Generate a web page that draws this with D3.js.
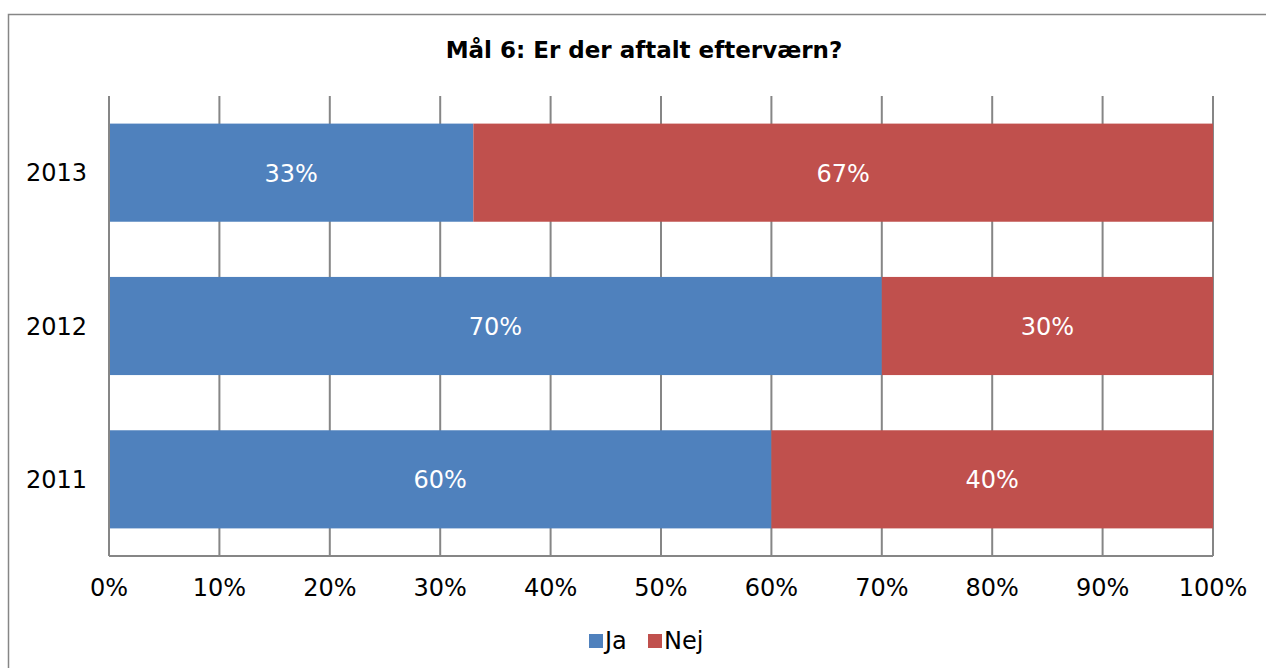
<!DOCTYPE html>
<html lang="da">
<head>
    <meta charset="UTF-8">
    <title>Mål 6</title>
    <style>
        body { margin: 0; background: #fff; }
        svg text { font-family: Verdana, "DejaVu Sans", sans-serif; }
    </style>
</head>
<body>
    <svg id="svg" width="1266" height="668"></svg>

    <script src="https://d3js.org/d3.v7.min.js"></script>
    <script>
        const years = ["2013", "2012", "2011"]
        const ja = [33, 70, 60]
        const nej = [67, 30, 40]
        const ticks = [0, 10, 20, 30, 40, 50, 60, 70, 80, 90, 100]
        const seriesNames = ["Ja", "Nej"]
        const colors = ["#4F81BD", "#C0504D"]

        const plotLeft = 109, plotRight = 1213, plotTop = 96, plotBottom = 556

        const svg = d3.select("#svg")

        // outer frame (runs off the right/bottom edges)
        svg.append("rect")
            .attr("x", 8.5).attr("y", 14.5)
            .attr("width", 1300).attr("height", 700)
            .attr("fill", "none")
            .attr("stroke", "#868686")
            .attr("stroke-width", 1.5)

        svg.append("text")
            .attr("x", 644).attr("y", 58)
            .attr("text-anchor", "middle")
            .attr("font-weight", "bold")
            .attr("font-size", "23px")
            .text("Mål 6: Er der aftalt efterværn?")

        const x = d3.scaleLinear().domain([0, 100]).range([plotLeft, plotRight])
        const y = d3.scaleBand().domain(years).range([plotTop, plotBottom]).paddingInner(0.36).paddingOuter(0.18)

        // gridlines
        svg.append("g")
            .selectAll("line")
            .data(ticks)
            .enter()
            .append("line")
            .attr("x1", d => x(d)).attr("x2", d => x(d))
            .attr("y1", plotTop).attr("y2", plotBottom)
            .attr("stroke", "#868686")
            .attr("stroke-width", 2)

        const rows = years.map((yr, i) => ({ year: yr, vals: [ja[i], nej[i]] }))

        const barGroup = svg.append("g")
        rows.forEach(r => {
            let start = 0
            r.vals.forEach((v, k) => {
                barGroup.append("rect")
                    .attr("x", x(start))
                    .attr("y", y(r.year))
                    .attr("width", x(start + v) - x(start))
                    .attr("height", y.bandwidth())
                    .attr("fill", colors[k])
                barGroup.append("text")
                    .attr("x", x(start + v / 2))
                    .attr("y", y(r.year) + y.bandwidth() / 2)
                    .attr("dy", "0.38em")
                    .attr("text-anchor", "middle")
                    .attr("fill", "#fff")
                    .attr("font-size", "24px")
                    .text(v + "%")
                start += v
            })
        })

        // axes
        svg.append("line")
            .attr("x1", plotLeft).attr("x2", plotRight)
            .attr("y1", plotBottom).attr("y2", plotBottom)
            .attr("stroke", "#868686").attr("stroke-width", 2)
        svg.append("line")
            .attr("x1", plotLeft).attr("x2", plotLeft)
            .attr("y1", plotTop).attr("y2", plotBottom)
            .attr("stroke", "#868686").attr("stroke-width", 2)

        svg.append("g")
            .selectAll("text")
            .data(ticks)
            .enter()
            .append("text")
            .attr("x", d => x(d))
            .attr("y", 596)
            .attr("text-anchor", "middle")
            .attr("font-size", "24px")
            .text(d => d + "%")

        svg.append("g")
            .selectAll("text")
            .data(years)
            .enter()
            .append("text")
            .attr("x", 87)
            .attr("y", d => y(d) + y.bandwidth() / 2)
            .attr("dy", "0.36em")
            .attr("text-anchor", "end")
            .attr("font-size", "24px")
            .text(d => d)

        // legend
        const legend = svg.append("g")
        const lx = [589, 648]
        seriesNames.forEach((name, k) => {
            legend.append("rect")
                .attr("x", lx[k]).attr("y", 634)
                .attr("width", 14).attr("height", 14)
                .attr("fill", colors[k])
            legend.append("text")
                .attr("x", lx[k] + 16).attr("y", 649)
                .attr("font-size", "24px")
                .text(name)
        })
    </script>
</body>
</html>
